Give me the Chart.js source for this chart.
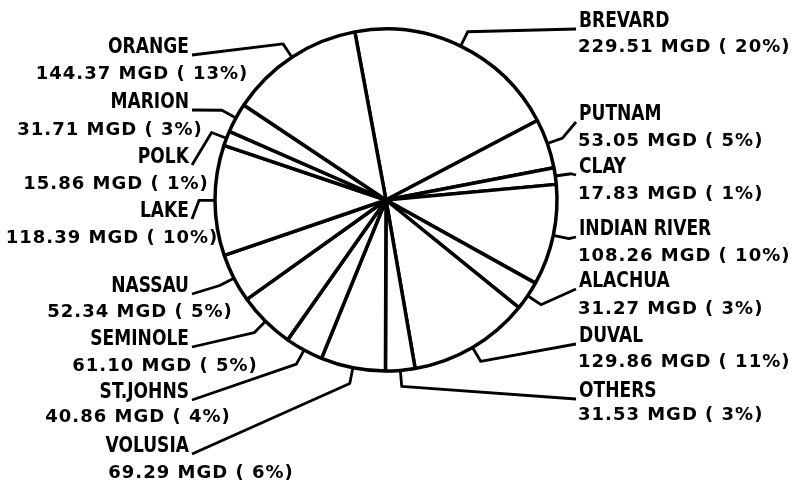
<!DOCTYPE html>
<html>
<head>
<meta charset="utf-8">
<script src="https://cdn.jsdelivr.net/npm/chart.js@4.4.0/dist/chart.umd.min.js"></script>
<style>
  html, body { margin: 0; padding: 0; background: #fff; }
  canvas { display: block; }
</style>
</head>
<body>
<canvas id="pie" width="798" height="486"></canvas>
<script>
// water use by county, clockwise from the top
const counties = ['BREVARD', 'PUTNAM', 'CLAY', 'INDIAN RIVER', 'ALACHUA', 'DUVAL', 'OTHERS',
  'VOLUSIA', 'ST.JOHNS', 'SEMINOLE', 'NASSAU', 'LAKE', 'POLK', 'MARION', 'ORANGE'];
const mgd = [229.51, 53.05, 17.83, 108.26, 31.27, 129.86, 31.53,
  69.29, 40.86, 61.10, 52.34, 118.39, 15.86, 31.71, 144.37];
const percent = [20, 5, 1, 10, 3, 11, 3, 6, 4, 5, 5, 10, 1, 3, 13];

// label placement: side, name baseline, value x (left edge right side / centre left side), value baseline
const labelLayout = [
  ['R', 27, 578, 52],
  ['R', 120, 578, 146],
  ['R', 173, 578, 199],
  ['R', 235, 578, 261],
  ['R', 287, 578, 314],
  ['R', 342, 578, 367],
  ['R', 397, 578, 420],
  ['L', 452, 201, 478],
  ['L', 398, 138, 422],
  ['L', 345, 165, 371],
  ['L', 292, 140, 317],
  ['L', 217, 112, 243],
  ['L', 163, 116, 189],
  ['L', 108, 110, 135],
  ['L', 53, 142, 79]
];

const nameFont = "bold 19px 'Liberation Sans Narrow', 'DejaVu Sans Condensed', sans-serif";
const valueFont = "bold 18px 'DejaVu Sans', sans-serif";

const leaderLabels = {
  id: 'leaderLabels',
  afterDatasetsDraw(chart) {
    const ctx = chart.ctx;
    const meta = chart.getDatasetMeta(0);
    ctx.save();
    meta.data.forEach((arc, i) => {
      const p = arc.getProps(['x', 'y', 'startAngle', 'endAngle', 'outerRadius'], true);
      const mid = (p.startAngle + p.endAngle) / 2;
      const r = p.outerRadius;
      const [side, nameY, valX, valY] = labelLayout[i];
      const x0 = p.x + Math.cos(mid) * r, y0 = p.y + Math.sin(mid) * r;
      const x1 = p.x + Math.cos(mid) * (r + 16), y1 = p.y + Math.sin(mid) * (r + 16);
      const ax = side === 'R' ? 576 : 192;
      const ay = nameY + 2;

      ctx.strokeStyle = '#000';
      ctx.lineWidth = 2.8;
      ctx.lineJoin = 'round';
      ctx.beginPath();
      ctx.moveTo(x0, y0);
      ctx.lineTo(x1, y1);
      ctx.lineTo(ax, ay);
      ctx.stroke();

      ctx.fillStyle = '#000';
      ctx.textBaseline = 'alphabetic';

      // names are tall, narrow hand lettering
      ctx.save();
      ctx.font = nameFont;
      ctx.letterSpacing = '0px';
      ctx.textAlign = side === 'R' ? 'left' : 'right';
      ctx.translate(side === 'R' ? 579 : 189, nameY);
      ctx.scale(1, 1.15);
      ctx.fillText(counties[i], 0, 0);
      ctx.restore();

      ctx.font = valueFont;
      ctx.letterSpacing = '1px';
      ctx.textAlign = side === 'R' ? 'left' : 'center';
      const txt = mgd[i].toFixed(2) + ' MGD ( ' + percent[i] + '%)';
      ctx.fillText(txt, valX, valY);
    });
    ctx.restore();
  }
};

new Chart(document.getElementById('pie'), {
  type: 'pie',
  data: {
    labels: counties,
    datasets: [{
      data: mgd,
      backgroundColor: '#fff',
      borderColor: '#000',
      borderWidth: 3.5
    }]
  },
  options: {
    responsive: false,
    animation: false,
    events: [],
    rotation: -10.5,
    radius: 171,
    layout: { padding: { left: 214, right: 240, top: 28, bottom: 114 } },
    plugins: {
      legend: { display: false },
      tooltip: { enabled: false }
    }
  },
  plugins: [leaderLabels]
});
</script>
</body>
</html>
